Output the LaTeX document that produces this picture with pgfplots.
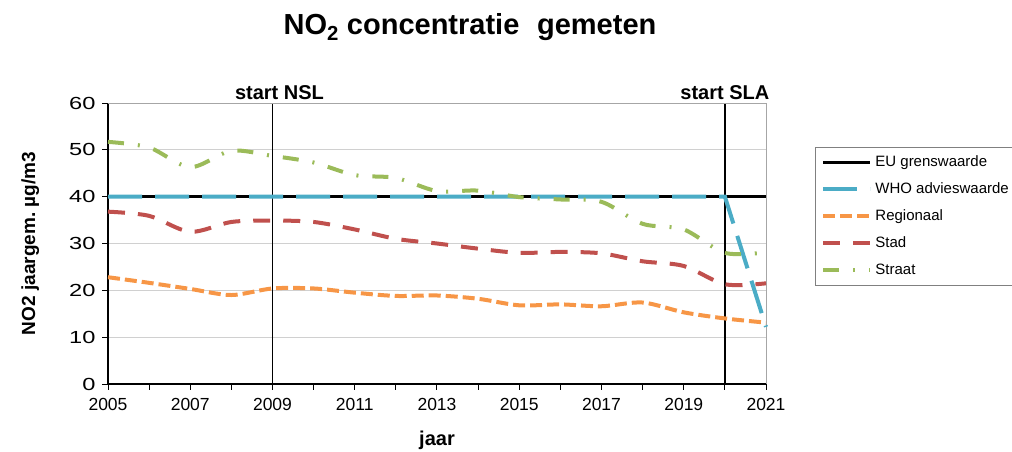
\documentclass[border=0pt]{standalone}
\usepackage{fontspec}
\setmainfont{Liberation Sans}
\usepackage{pgfplots}
\pgfplotsset{compat=1.18}
\definecolor{cblue}{HTML}{4BACC6}
\definecolor{corange}{HTML}{F79646}
\definecolor{cred}{HTML}{C0504D}
\definecolor{cgreen}{HTML}{9BBB59}
\definecolor{cgrid}{HTML}{D0D0D0}
\begin{document}
\begin{tikzpicture}
\useasboundingbox (0,0) rectangle (1012bp,452bp);
\node[anchor=base, font=\fontsize{29bp}{33bp}\selectfont\bfseries] at (470bp,417bp) {NO\textsubscript{2} concentratie\,\, gemeten};
\begin{axis}[
  at={(108bp,68bp)}, anchor=south west,
  width=658bp, height=281bp, scale only axis,
  xmin=2005, xmax=2021, ymin=0, ymax=60,
  xtick={2005,2007,...,2021}, minor xtick={2006,2008,...,2020},
  ytick={0,10,...,60},
  axis x line*=bottom, axis y line*=left,
  axis line style={black, line width=1.2bp},
  tick align=outside, major tick length=6bp, minor tick length=6bp,
  every tick/.style={black, line width=1bp},
  ymajorgrids, grid style={cgrid, line width=0.8bp},
  /pgf/number format/.cd, 1000 sep={}, assume math mode=true, /pgfplots/.cd,
  tick label style={font=\fontsize{17.5bp}{20bp}\selectfont},
  xticklabel style={yshift=-5bp},
  yticklabel={\scalebox{1.35}[1]{\pgfmathprintnumber{\tick}}},
  yticklabel style={xshift=-3bp},
  ylabel={\bfseries NO2 jaargem.\ µg/m3},
  ylabel style={at={(axis description cs:-0.118,0.5)}, anchor=center, font=\fontsize{19bp}{22bp}\selectfont},
  xlabel={\bfseries jaar},
  xlabel style={at={(axis description cs:0.5,-0.199)}, anchor=center, font=\fontsize{20bp}{23bp}\selectfont},
  clip=false,
  legend cell align=left,
  legend style={at={(axis description cs:1.0745,0.843)}, anchor=north west,
    draw=gray, line width=0.8bp, font=\fontsize{15bp}{17bp}\selectfont,
    row sep=9bp, inner xsep=6bp, inner ysep=6bp,
    nodes={text height=11bp, text depth=3bp, inner xsep=3bp}},
  legend image code/.code={\draw[#1] (0bp,0bp) -- (47bp,0bp);},
]
\draw[black, line width=1.4bp] (axis cs:2009,0) -- (axis cs:2009,60);
\draw[black, line width=1.4bp] (axis cs:2020,0) -- (axis cs:2020,60);
\draw[gray!70, line width=0.8bp] (axis cs:2005,60) -- (axis cs:2021,60) -- (axis cs:2021,0);
\node[anchor=base, font=\fontsize{20bp}{23bp}\selectfont\bfseries] at (axis cs:2009,60) [yshift=4bp, xshift=7bp] {start NSL};
\node[anchor=base, font=\fontsize{20bp}{23bp}\selectfont\bfseries] at (axis cs:2020,60) [yshift=4bp] {start SLA};

\addplot[black, line width=3.5bp] coordinates {(2005,40) (2021,40)};
\addlegendentry{EU grenswaarde}
\addplot[cblue, line width=4bp, dash pattern=on 34bp off 13bp] coordinates {
(2005,40) (2006,40) (2007,40) (2008,40) (2009,40) (2010,40) (2011,40) (2012,40) (2013,40) (2014,40) (2015,40) (2016,40) (2017,40) (2018,40) (2019,40) (2020,40) (2021,12.2)};
\addlegendentry{WHO advieswaarde}
\addplot[corange, line width=4bp, smooth, tension=0.5, dash pattern=on 12bp off 5bp] coordinates {
(2005,22.8) (2006,21.6) (2007,20.3) (2008,19.0) (2009,20.4) (2010,20.4) (2011,19.5) (2012,18.8) (2013,18.9) (2014,18.2) (2015,16.8) (2016,17.0) (2017,16.6) (2018,17.4) (2019,15.3) (2020,14.0) (2021,13.1)};
\addlegendentry{Regionaal}
\addplot[cred, line width=4bp, smooth, tension=0.5, dash pattern=on 17bp off 13bp] coordinates {
(2005,36.8) (2006,35.9) (2007,32.5) (2008,34.6) (2009,34.9) (2010,34.6) (2011,33.0) (2012,31.0) (2013,30.0) (2014,28.9) (2015,28.0) (2016,28.2) (2017,27.9) (2018,26.2) (2019,25.2) (2020,21.3) (2021,21.5)};
\addlegendentry{Stad}
\addplot[cgreen, line width=4bp, smooth, tension=0.5, dash pattern=on 16bp off 14bp on 2bp off 14bp] coordinates {
(2005,51.7) (2006,50.5) (2007,46.3) (2008,49.8) (2009,48.7) (2010,47.3) (2011,44.6) (2012,44.0) (2013,41.2) (2014,41.3) (2015,39.9) (2016,39.4) (2017,38.9) (2018,34.2) (2019,33.0) (2020,28.0) (2021,28.1)};
\addlegendentry{Straat}
\end{axis}
\end{tikzpicture}
\end{document}
